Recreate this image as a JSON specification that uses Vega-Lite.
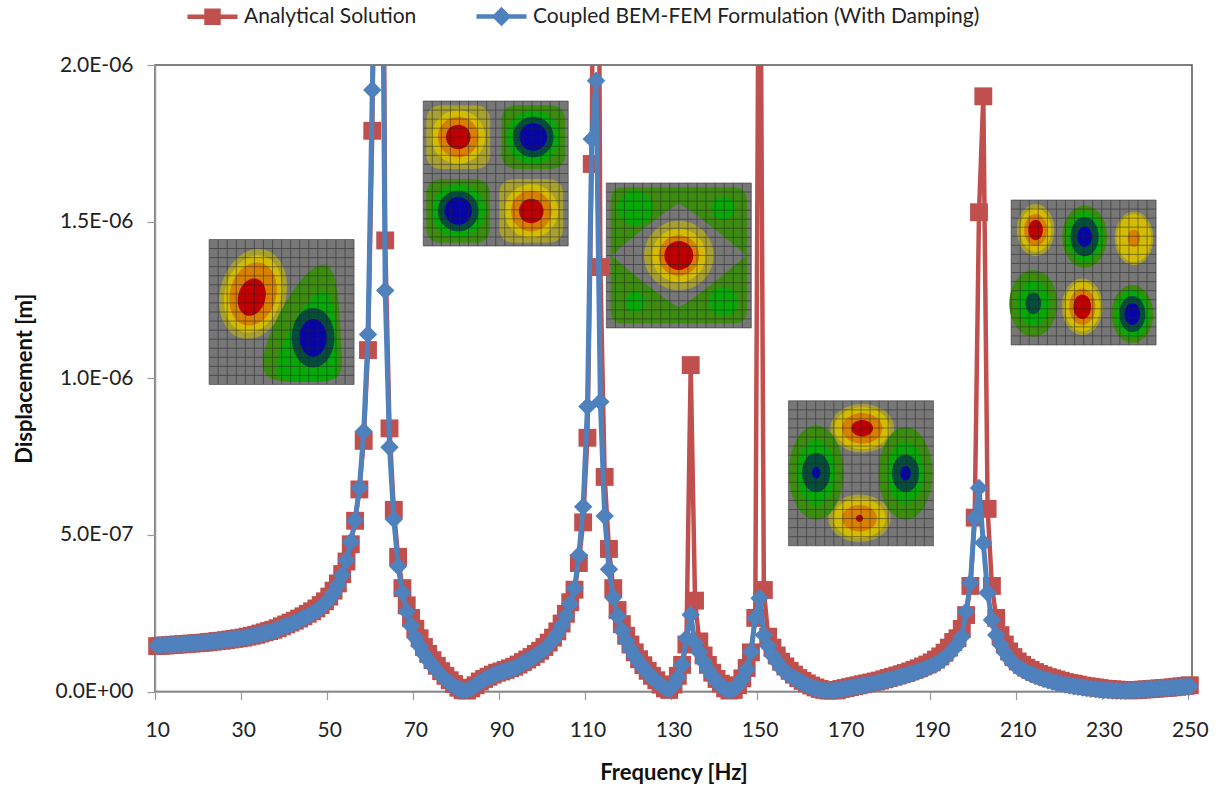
{"$schema":"https://vega.github.io/schema/vega-lite/v6.json","width":1037,"height":626.5,"autosize":{"type":"none"},"padding":{"left":155,"top":65,"right":26,"bottom":102.5},"background":"white","config":{"font":"Lato","view":{"stroke":"#555555","strokeWidth":1.5}},
"datasets":{
"analytical":[{"f":10,"v":1.45e-7},{"f":11,"v":1.46e-7},{"f":12,"v":1.47e-7},{"f":13,"v":1.48e-7},{"f":14,"v":1.49e-7},{"f":15,"v":1.5e-7},{"f":16,"v":1.51e-7},{"f":17,"v":1.52e-7},{"f":18,"v":1.53e-7},{"f":19,"v":1.54e-7},{"f":20,"v":1.55e-7},{"f":21,"v":1.56e-7},{"f":22,"v":1.58e-7},{"f":23,"v":1.59e-7},{"f":24,"v":1.61e-7},{"f":25,"v":1.62e-7},{"f":26,"v":1.64e-7},{"f":27,"v":1.66e-7},{"f":28,"v":1.68e-7},{"f":29,"v":1.7e-7},{"f":30,"v":1.72e-7},{"f":31,"v":1.75e-7},{"f":32,"v":1.78e-7},{"f":33,"v":1.81e-7},{"f":34,"v":1.85e-7},{"f":35,"v":1.89e-7},{"f":36,"v":1.93e-7},{"f":37,"v":1.97e-7},{"f":38,"v":2.02e-7},{"f":39,"v":2.08e-7},{"f":40,"v":2.14e-7},{"f":41,"v":2.2e-7},{"f":42,"v":2.26e-7},{"f":43,"v":2.33e-7},{"f":44,"v":2.4e-7},{"f":45,"v":2.48e-7},{"f":46,"v":2.56e-7},{"f":47,"v":2.65e-7},{"f":48,"v":2.76e-7},{"f":49,"v":2.88e-7},{"f":50,"v":3.03e-7},{"f":51,"v":3.22e-7},{"f":52,"v":3.45e-7},{"f":53,"v":3.75e-7},{"f":54,"v":4.15e-7},{"f":55,"v":4.7e-7},{"f":56,"v":5.45e-7},{"f":57,"v":6.45e-7},{"f":58,"v":8.0e-7},{"f":59,"v":1.09e-6},{"f":60,"v":1.79e-6},{"f":61,"v":3.0e-6},{"f":62,"v":4.0e-6},{"f":63,"v":1.44e-6},{"f":64,"v":8.4e-7},{"f":65,"v":5.8e-7},{"f":66,"v":4.3e-7},{"f":67,"v":3.3e-7},{"f":68,"v":2.75e-7},{"f":69,"v":2.35e-7},{"f":70,"v":2.0e-7},{"f":71,"v":1.7e-7},{"f":72,"v":1.42e-7},{"f":73,"v":1.2e-7},{"f":74,"v":1.0e-7},{"f":75,"v":8.2e-8},{"f":76,"v":6.5e-8},{"f":77,"v":5.0e-8},{"f":78,"v":3.6e-8},{"f":79,"v":2.4e-8},{"f":80,"v":1.2e-8},{"f":81,"v":4e-9},{"f":82,"v":3e-9},{"f":83,"v":1.0e-8},{"f":84,"v":2.0e-8},{"f":85,"v":3.2e-8},{"f":86,"v":4.0e-8},{"f":87,"v":4.7e-8},{"f":88,"v":5.4e-8},{"f":89,"v":6.0e-8},{"f":90,"v":6.4e-8},{"f":91,"v":6.9e-8},{"f":92,"v":7.4e-8},{"f":93,"v":7.9e-8},{"f":94,"v":8.6e-8},{"f":95,"v":9.4e-8},{"f":96,"v":1.02e-7},{"f":97,"v":1.1e-7},{"f":98,"v":1.2e-7},{"f":99,"v":1.3e-7},{"f":100,"v":1.42e-7},{"f":101,"v":1.56e-7},{"f":102,"v":1.72e-7},{"f":103,"v":1.92e-7},{"f":104,"v":2.17e-7},{"f":105,"v":2.48e-7},{"f":106,"v":2.85e-7},{"f":107,"v":3.25e-7},{"f":108,"v":4.1e-7},{"f":109,"v":5.4e-7},{"f":110,"v":8.1e-7},{"f":111,"v":1.684e-6},{"f":112,"v":4.4e-6},{"f":113,"v":1.355e-6},{"f":114,"v":6.85e-7},{"f":115,"v":4.55e-7},{"f":116,"v":3.3e-7},{"f":117,"v":2.6e-7},{"f":118,"v":2.15e-7},{"f":119,"v":1.78e-7},{"f":120,"v":1.5e-7},{"f":121,"v":1.25e-7},{"f":122,"v":1.03e-7},{"f":123,"v":8.4e-8},{"f":124,"v":6.6e-8},{"f":125,"v":5.0e-8},{"f":126,"v":3.6e-8},{"f":127,"v":2.2e-8},{"f":128,"v":1.0e-8},{"f":129,"v":5e-9},{"f":130,"v":2.2e-8},{"f":131,"v":5.0e-8},{"f":132,"v":8.5e-8},{"f":133,"v":1.5e-7},{"f":134,"v":1.042e-6},{"f":135,"v":2.9e-7},{"f":136,"v":1.6e-7},{"f":137,"v":1.15e-7},{"f":138,"v":8.5e-8},{"f":139,"v":6.0e-8},{"f":140,"v":4.0e-8},{"f":141,"v":2.5e-8},{"f":142,"v":1.0e-8},{"f":143,"v":3e-9},{"f":144,"v":5e-9},{"f":145,"v":2.0e-8},{"f":146,"v":4.2e-8},{"f":147,"v":7.5e-8},{"f":148,"v":1.25e-7},{"f":149,"v":2.35e-7},{"f":150,"v":3.0e-6},{"f":151,"v":3.24e-7},{"f":152,"v":1.75e-7},{"f":153,"v":1.4e-7},{"f":154,"v":1.15e-7},{"f":155,"v":9.5e-8},{"f":156,"v":8.0e-8},{"f":157,"v":6.6e-8},{"f":158,"v":5.4e-8},{"f":159,"v":4.3e-8},{"f":160,"v":3.4e-8},{"f":161,"v":2.6e-8},{"f":162,"v":1.9e-8},{"f":163,"v":1.3e-8},{"f":164,"v":8e-9},{"f":165,"v":5e-9},{"f":166,"v":3e-9},{"f":167,"v":3e-9},{"f":168,"v":5e-9},{"f":169,"v":8e-9},{"f":170,"v":1.1e-8},{"f":171,"v":1.4e-8},{"f":172,"v":1.7e-8},{"f":173,"v":2.0e-8},{"f":174,"v":2.3e-8},{"f":175,"v":2.6e-8},{"f":176,"v":2.9e-8},{"f":177,"v":3.2e-8},{"f":178,"v":3.5e-8},{"f":179,"v":3.9e-8},{"f":180,"v":4.3e-8},{"f":181,"v":4.7e-8},{"f":182,"v":5.1e-8},{"f":183,"v":5.5e-8},{"f":184,"v":5.9e-8},{"f":185,"v":6.4e-8},{"f":186,"v":6.9e-8},{"f":187,"v":7.4e-8},{"f":188,"v":8.0e-8},{"f":189,"v":8.6e-8},{"f":190,"v":9.3e-8},{"f":191,"v":1.02e-7},{"f":192,"v":1.12e-7},{"f":193,"v":1.24e-7},{"f":194,"v":1.4e-7},{"f":195,"v":1.58e-7},{"f":196,"v":1.7e-7},{"f":197,"v":2.0e-7},{"f":198,"v":2.44e-7},{"f":199,"v":3.37e-7},{"f":200,"v":5.55e-7},{"f":201,"v":1.53e-6},{"f":202,"v":1.9e-6},{"f":203,"v":5.83e-7},{"f":204,"v":3.37e-7},{"f":205,"v":2.35e-7},{"f":206,"v":1.8e-7},{"f":207,"v":1.5e-7},{"f":208,"v":1.28e-7},{"f":209,"v":1.1e-7},{"f":210,"v":9.6e-8},{"f":211,"v":8.5e-8},{"f":212,"v":7.6e-8},{"f":213,"v":6.9e-8},{"f":214,"v":6.2e-8},{"f":215,"v":5.6e-8},{"f":216,"v":5.1e-8},{"f":217,"v":4.6e-8},{"f":218,"v":4.2e-8},{"f":219,"v":3.8e-8},{"f":220,"v":3.4e-8},{"f":221,"v":3.0e-8},{"f":222,"v":2.7e-8},{"f":223,"v":2.5e-8},{"f":224,"v":2.2e-8},{"f":225,"v":1.9e-8},{"f":226,"v":1.7e-8},{"f":227,"v":1.5e-8},{"f":228,"v":1.3e-8},{"f":229,"v":1.1e-8},{"f":230,"v":9e-9},{"f":231,"v":8e-9},{"f":232,"v":7e-9},{"f":233,"v":6e-9},{"f":234,"v":5e-9},{"f":235,"v":5e-9},{"f":236,"v":4e-9},{"f":237,"v":4e-9},{"f":238,"v":5e-9},{"f":239,"v":6e-9},{"f":240,"v":7e-9},{"f":241,"v":8e-9},{"f":242,"v":9e-9},{"f":243,"v":1.0e-8},{"f":244,"v":1.1e-8},{"f":245,"v":1.2e-8},{"f":246,"v":1.35e-8},{"f":247,"v":1.5e-8},{"f":248,"v":1.65e-8},{"f":249,"v":1.8e-8},{"f":250,"v":2.0e-8}],
"coupled":[{"f":10,"v":1.47e-7},{"f":11,"v":1.48e-7},{"f":12,"v":1.49e-7},{"f":13,"v":1.5e-7},{"f":14,"v":1.5e-7},{"f":15,"v":1.51e-7},{"f":16,"v":1.52e-7},{"f":17,"v":1.53e-7},{"f":18,"v":1.54e-7},{"f":19,"v":1.55e-7},{"f":20,"v":1.56e-7},{"f":21,"v":1.57e-7},{"f":22,"v":1.59e-7},{"f":23,"v":1.6e-7},{"f":24,"v":1.62e-7},{"f":25,"v":1.63e-7},{"f":26,"v":1.65e-7},{"f":27,"v":1.66e-7},{"f":28,"v":1.68e-7},{"f":29,"v":1.7e-7},{"f":30,"v":1.72e-7},{"f":31,"v":1.74e-7},{"f":32,"v":1.77e-7},{"f":33,"v":1.8e-7},{"f":34,"v":1.83e-7},{"f":35,"v":1.87e-7},{"f":36,"v":1.9e-7},{"f":37,"v":1.94e-7},{"f":38,"v":1.99e-7},{"f":39,"v":2.05e-7},{"f":40,"v":2.1e-7},{"f":41,"v":2.15e-7},{"f":42,"v":2.21e-7},{"f":43,"v":2.27e-7},{"f":44,"v":2.34e-7},{"f":45,"v":2.41e-7},{"f":46,"v":2.49e-7},{"f":47,"v":2.58e-7},{"f":48,"v":2.68e-7},{"f":49,"v":2.8e-7},{"f":50,"v":2.95e-7},{"f":51,"v":3.15e-7},{"f":52,"v":3.4e-7},{"f":53,"v":3.72e-7},{"f":54,"v":4.2e-7},{"f":55,"v":4.78e-7},{"f":56,"v":5.47e-7},{"f":57,"v":6.5e-7},{"f":58,"v":8.3e-7},{"f":59,"v":1.14e-6},{"f":60,"v":1.92e-6},{"f":61,"v":2.6e-6},{"f":62,"v":3.1e-6},{"f":63,"v":1.28e-6},{"f":64,"v":7.8e-7},{"f":65,"v":5.5e-7},{"f":66,"v":4.0e-7},{"f":67,"v":3.15e-7},{"f":68,"v":2.55e-7},{"f":69,"v":2.1e-7},{"f":70,"v":1.72e-7},{"f":71,"v":1.45e-7},{"f":72,"v":1.2e-7},{"f":73,"v":1.0e-7},{"f":74,"v":8.2e-8},{"f":75,"v":6.7e-8},{"f":76,"v":5.2e-8},{"f":77,"v":3.8e-8},{"f":78,"v":2.7e-8},{"f":79,"v":1.7e-8},{"f":80,"v":8e-9},{"f":81,"v":3e-9},{"f":82,"v":5e-9},{"f":83,"v":1.0e-8},{"f":84,"v":2.0e-8},{"f":85,"v":3.0e-8},{"f":86,"v":3.8e-8},{"f":87,"v":4.5e-8},{"f":88,"v":5.2e-8},{"f":89,"v":5.8e-8},{"f":90,"v":6.2e-8},{"f":91,"v":6.6e-8},{"f":92,"v":7.0e-8},{"f":93,"v":7.5e-8},{"f":94,"v":8.2e-8},{"f":95,"v":9.0e-8},{"f":96,"v":9.8e-8},{"f":97,"v":1.06e-7},{"f":98,"v":1.15e-7},{"f":99,"v":1.25e-7},{"f":100,"v":1.35e-7},{"f":101,"v":1.5e-7},{"f":102,"v":1.65e-7},{"f":103,"v":1.85e-7},{"f":104,"v":2.1e-7},{"f":105,"v":2.4e-7},{"f":106,"v":2.8e-7},{"f":107,"v":3.3e-7},{"f":108,"v":4.35e-7},{"f":109,"v":5.9e-7},{"f":110,"v":9.1e-7},{"f":111,"v":1.764e-6},{"f":112,"v":1.95e-6},{"f":113,"v":9.25e-7},{"f":114,"v":5.6e-7},{"f":115,"v":3.9e-7},{"f":116,"v":3.0e-7},{"f":117,"v":2.4e-7},{"f":118,"v":1.95e-7},{"f":119,"v":1.62e-7},{"f":120,"v":1.35e-7},{"f":121,"v":1.13e-7},{"f":122,"v":9.3e-8},{"f":123,"v":7.5e-8},{"f":124,"v":6.0e-8},{"f":125,"v":4.5e-8},{"f":126,"v":3.3e-8},{"f":127,"v":2.2e-8},{"f":128,"v":1.2e-8},{"f":129,"v":6e-9},{"f":130,"v":2.0e-8},{"f":131,"v":4.5e-8},{"f":132,"v":8.5e-8},{"f":133,"v":1.7e-7},{"f":134,"v":2.45e-7},{"f":135,"v":1.55e-7},{"f":136,"v":1.25e-7},{"f":137,"v":9.5e-8},{"f":138,"v":7.0e-8},{"f":139,"v":5.0e-8},{"f":140,"v":3.2e-8},{"f":141,"v":1.8e-8},{"f":142,"v":8e-9},{"f":143,"v":4e-9},{"f":144,"v":8e-9},{"f":145,"v":2.0e-8},{"f":146,"v":4.0e-8},{"f":147,"v":7.0e-8},{"f":148,"v":1.27e-7},{"f":149,"v":2.35e-7},{"f":150,"v":2.98e-7},{"f":151,"v":1.8e-7},{"f":152,"v":1.45e-7},{"f":153,"v":1.15e-7},{"f":154,"v":9.5e-8},{"f":155,"v":7.5e-8},{"f":156,"v":6.2e-8},{"f":157,"v":5.2e-8},{"f":158,"v":4.4e-8},{"f":159,"v":3.5e-8},{"f":160,"v":2.7e-8},{"f":161,"v":2.0e-8},{"f":162,"v":1.4e-8},{"f":163,"v":1.0e-8},{"f":164,"v":6e-9},{"f":165,"v":4e-9},{"f":166,"v":3e-9},{"f":167,"v":3e-9},{"f":168,"v":5e-9},{"f":169,"v":7e-9},{"f":170,"v":1.0e-8},{"f":171,"v":1.2e-8},{"f":172,"v":1.5e-8},{"f":173,"v":1.7e-8},{"f":174,"v":2.0e-8},{"f":175,"v":2.2e-8},{"f":176,"v":2.5e-8},{"f":177,"v":2.7e-8},{"f":178,"v":3.0e-8},{"f":179,"v":3.4e-8},{"f":180,"v":3.8e-8},{"f":181,"v":4.1e-8},{"f":182,"v":4.5e-8},{"f":183,"v":4.8e-8},{"f":184,"v":5.2e-8},{"f":185,"v":5.6e-8},{"f":186,"v":6.0e-8},{"f":187,"v":6.5e-8},{"f":188,"v":7.0e-8},{"f":189,"v":7.6e-8},{"f":190,"v":8.2e-8},{"f":191,"v":8.8e-8},{"f":192,"v":9.7e-8},{"f":193,"v":1.07e-7},{"f":194,"v":1.2e-7},{"f":195,"v":1.35e-7},{"f":196,"v":1.5e-7},{"f":197,"v":1.75e-7},{"f":198,"v":2.55e-7},{"f":199,"v":3.46e-7},{"f":200,"v":5.55e-7},{"f":201,"v":6.5e-7},{"f":202,"v":4.75e-7},{"f":203,"v":3.15e-7},{"f":204,"v":2.28e-7},{"f":205,"v":1.8e-7},{"f":206,"v":1.5e-7},{"f":207,"v":1.25e-7},{"f":208,"v":1.05e-7},{"f":209,"v":9.0e-8},{"f":210,"v":7.8e-8},{"f":211,"v":7.0e-8},{"f":212,"v":6.2e-8},{"f":213,"v":5.6e-8},{"f":214,"v":5.0e-8},{"f":215,"v":4.5e-8},{"f":216,"v":4.0e-8},{"f":217,"v":3.6e-8},{"f":218,"v":3.2e-8},{"f":219,"v":2.8e-8},{"f":220,"v":2.5e-8},{"f":221,"v":2.2e-8},{"f":222,"v":1.9e-8},{"f":223,"v":1.7e-8},{"f":224,"v":1.5e-8},{"f":225,"v":1.3e-8},{"f":226,"v":1.1e-8},{"f":227,"v":9e-9},{"f":228,"v":8e-9},{"f":229,"v":6e-9},{"f":230,"v":5e-9},{"f":231,"v":4e-9},{"f":232,"v":3e-9},{"f":233,"v":2e-9},{"f":234,"v":2e-9},{"f":235,"v":2e-9},{"f":236,"v":3e-9},{"f":237,"v":4e-9},{"f":238,"v":5e-9},{"f":239,"v":6e-9},{"f":240,"v":7e-9},{"f":241,"v":8e-9},{"f":242,"v":9e-9},{"f":243,"v":1.0e-8},{"f":244,"v":1.1e-8},{"f":245,"v":1.2e-8},{"f":246,"v":1.3e-8},{"f":247,"v":1.4e-8},{"f":248,"v":1.5e-8},{"f":249,"v":1.6e-8},{"f":250,"v":1.7e-8}],
"insets":[{"f":38.92,"v":1.2115e-6},{"f":88.69,"v":1.6536e-6},{"f":131.24,"v":1.392e-6},{"f":173.57,"v":6.967e-7},{"f":225.31,"v":1.3376e-6}],
"contours":[
{"f":32.29,"v":1.269e-6,"level":"hot1","form":"tilt","extent":63},{"f":32.29,"v":1.269e-6,"level":"hot2","form":"tilt","extent":54},{"f":32.29,"v":1.269e-6,"level":"hot3","form":"tilt","extent":44},{"f":31.99,"v":1.259e-6,"level":"hot4","form":"tilt","extent":26},
{"f":43.92,"v":1.176e-6,"level":"cold1","form":"teardrop","extent":81},{"f":45.08,"v":1.132e-6,"level":"cold2","form":"teardrop","extent":62},{"f":46.24,"v":1.129e-6,"level":"cold3","form":"tall","extent":41},{"f":46.24,"v":1.129e-6,"level":"cold4","form":"tall","extent":26},
{"f":79.97,"v":1.77e-6,"level":"hot1","form":"squircle","extent":44},{"f":79.97,"v":1.77e-6,"level":"hot2","form":"round","extent":37},{"f":79.97,"v":1.77e-6,"level":"hot3","form":"round","extent":28},{"f":79.97,"v":1.77e-6,"level":"hot4","form":"round","extent":17},
{"f":97.41,"v":1.77e-6,"level":"cold1","form":"squircle","extent":44},{"f":97.41,"v":1.77e-6,"level":"cold2","form":"round","extent":37},{"f":97.41,"v":1.77e-6,"level":"cold3","form":"round","extent":28},{"f":97.41,"v":1.77e-6,"level":"cold4","form":"round","extent":19},
{"f":79.97,"v":1.534e-6,"level":"cold1","form":"squircle","extent":44},{"f":79.97,"v":1.534e-6,"level":"cold2","form":"round","extent":37},{"f":79.97,"v":1.534e-6,"level":"cold3","form":"round","extent":28},{"f":79.97,"v":1.534e-6,"level":"cold4","form":"round","extent":19},
{"f":96.94,"v":1.534e-6,"level":"hot1","form":"squircle","extent":44},{"f":96.94,"v":1.534e-6,"level":"hot2","form":"round","extent":37},{"f":96.94,"v":1.534e-6,"level":"hot3","form":"round","extent":28},{"f":96.94,"v":1.534e-6,"level":"hot4","form":"round","extent":17},
{"f":131.24,"v":1.392e-6,"level":"cold1","form":"block","extent":94},{"f":131.24,"v":1.392e-6,"level":"zero","form":"diamond","extent":93},
{"f":121.13,"v":1.5435e-6,"level":"cold2","form":"round","extent":24},{"f":141.59,"v":1.5435e-6,"level":"cold2","form":"round","extent":16},{"f":121.13,"v":1.2434e-6,"level":"cold2","form":"round","extent":14},{"f":141.59,"v":1.2434e-6,"level":"cold2","form":"round","extent":20},
{"f":131.24,"v":1.392e-6,"level":"hot1","form":"round","extent":48},{"f":131.24,"v":1.392e-6,"level":"hot2","form":"round","extent":37},{"f":131.24,"v":1.392e-6,"level":"hot3","form":"round","extent":28},{"f":131.24,"v":1.392e-6,"level":"hot4","form":"round","extent":20},
{"f":173.85,"v":8.402e-7,"level":"hot1","form":"wide","extent":44},{"f":173.85,"v":8.402e-7,"level":"hot2","form":"wide","extent":38},{"f":173.85,"v":8.402e-7,"level":"hot3","form":"wide","extent":28},{"f":173.85,"v":8.402e-7,"level":"hot4","form":"wide","extent":15},
{"f":173.22,"v":5.529e-7,"level":"hot1","form":"wide","extent":43},{"f":173.22,"v":5.529e-7,"level":"hot2","form":"wide","extent":36},{"f":173.22,"v":5.529e-7,"level":"hot3","form":"wide","extent":24},{"f":173.22,"v":5.529e-7,"level":"hot4","form":"round","extent":5},
{"f":163.15,"v":6.985e-7,"level":"cold1","form":"slim","extent":65},{"f":163.15,"v":6.985e-7,"level":"cold2","form":"slim","extent":45},{"f":163.15,"v":6.985e-7,"level":"cold3","form":"tall","extent":27},{"f":163.15,"v":6.985e-7,"level":"cold4","form":"tall","extent":8},
{"f":183.92,"v":6.966e-7,"level":"cold1","form":"slim","extent":64},{"f":183.92,"v":6.966e-7,"level":"cold2","form":"slim","extent":43},{"f":183.92,"v":6.966e-7,"level":"cold3","form":"tall","extent":26},{"f":183.92,"v":6.966e-7,"level":"cold4","form":"tall","extent":10},
{"f":214.15,"v":1.4733e-6,"level":"hot1","form":"tall","extent":36},{"f":214.15,"v":1.4733e-6,"level":"hot2","form":"tall","extent":30},{"f":214.15,"v":1.4733e-6,"level":"hot3","form":"tall","extent":22},{"f":214.15,"v":1.4733e-6,"level":"hot4","form":"tall","extent":14},
{"f":225.55,"v":1.4519e-6,"level":"cold1","form":"tall","extent":43},{"f":225.55,"v":1.4519e-6,"level":"cold2","form":"tall","extent":35},{"f":225.55,"v":1.4519e-6,"level":"cold3","form":"tall","extent":27},{"f":225.55,"v":1.4519e-6,"level":"cold4","form":"tall","extent":14},
{"f":237.01,"v":1.4468e-6,"level":"hot1","form":"tall","extent":37},{"f":237.01,"v":1.4468e-6,"level":"hot2","form":"tall","extent":33},{"f":237.01,"v":1.4468e-6,"level":"hot3","form":"tall","extent":12},
{"f":213.62,"v":1.2393e-6,"level":"cold1","form":"tall","extent":46},{"f":213.62,"v":1.2393e-6,"level":"cold2","form":"tall","extent":31},{"f":213.62,"v":1.2393e-6,"level":"cold3","form":"tall","extent":15},
{"f":225.01,"v":1.2284e-6,"level":"hot1","form":"tall","extent":39},{"f":225.01,"v":1.2284e-6,"level":"hot2","form":"tall","extent":34},{"f":225.01,"v":1.2284e-6,"level":"hot3","form":"tall","extent":25},{"f":225.01,"v":1.2284e-6,"level":"hot4","form":"tall","extent":17},
{"f":236.64,"v":1.2051e-6,"level":"cold1","form":"tall","extent":40},{"f":236.64,"v":1.2051e-6,"level":"cold2","form":"tall","extent":33},{"f":236.64,"v":1.2051e-6,"level":"cold3","form":"tall","extent":25},{"f":236.64,"v":1.2051e-6,"level":"cold4","form":"tall","extent":15}
]},
"encoding":{
"x":{"field":"f","type":"quantitative","scale":{"domain":[9.5,250.5],"nice":false,"zero":false},"axis":{"title":"Frequency [Hz]","values":[10,30,50,70,90,110,130,150,170,190,210,230,250],"format":"d","grid":false,"tickOffset":-2.15,"labelOffset":2.15,"tickSize":8,"tickColor":"#999999","domainColor":"#999999","domainWidth":1.5,"tickWidth":1.2,"labelFontSize":21,"labelColor":"#222222","labelPadding":20,"titleFontSize":22,"titleFontWeight":"bold","titleColor":"#111111","titlePadding":22,"labelFlush":false,"labelOverlap":false}},
"y":{"field":"v","type":"quantitative","scale":{"domain":[0,2e-6],"nice":false},"axis":{"title":"Displacement [m]","values":[0,5e-7,1e-6,1.5e-6,2e-6],"labelExpr":"replace(replace(upper(format(datum.value,'.1e')),'-','-0'),'+','+0')","grid":false,"tickSize":8,"tickColor":"#999999","domainColor":"#999999","domainWidth":1.5,"tickWidth":1.2,"labelFontSize":21,"labelColor":"#222222","labelPadding":14,"titleFontSize":22,"titleFontWeight":"bold","titleColor":"#111111","titlePadding":19}}
},
"layer":[
{"data":{"name":"insets"},"mark":{"type":"point","shape":"square","filled":true,"fill":"#777777","stroke":null,"opacity":1,"size":21025,"clip":false}},
{"data":{"name":"contours"},"mark":{"type":"point","filled":true,"opacity":1,"strokeWidth":0},"encoding":{
"fill":{"field":"level","type":"nominal","legend":null,"scale":{"domain":["zero","hot1","hot2","hot3","hot4","cold1","cold2","cold3","cold4"],"range":["#777777","#a8a030","#d4bc00","#d88000","#c00000","#3c8c10","#08a808","#064e3c","#0606a8"]}},
"shape":{"field":"form","type":"nominal","legend":null,"scale":{"domain":["round","tall","wide","slim","tilt","teardrop","squircle","block","diamond"],"range":["M-1,0A1,1 0 1,1 1,0A1,1 0 1,1 -1,0Z","M-.72,0A.72,1 0 1,1 .72,0A.72,1 0 1,1 -.72,0Z","M-1,0A1,.76 0 1,1 1,0A1,.76 0 1,1 -1,0Z","M-.58,0A.58,1 0 1,1 .58,0A.58,1 0 1,1 -.58,0Z","M.26,-.97A.72,1 15 1,1 -.26,.97A.72,1 15 1,1 .26,-.97Z","M.35,-1C.6,-1 .62,-.3 .66,.6C.7,1 .47,1 0,1C-.47,1 -.78,1 -.66,.5C-.55,0 0,-1 .35,-1Z","M-.5,-1H.5Q1,-1 1,-.5V.5Q1,1 .5,1H-.5Q-1,1 -1,.5V-.5Q-1,-1 -.5,-1Z","M-.8,-1H.8Q1,-1 1,-.8V.8Q1,1 .8,1H-.8Q-1,1 -1,.8V-.8Q-1,-1 -.8,-1Z","M0,-.77Q.3,-.6 1,0Q.3,.6 0,.77Q-.3,.6 -1,0Q-.3,-.6 0,-.77Z"]}},
"size":{"field":"extent","type":"quantitative","legend":null,"scale":{"type":"pow","exponent":2,"domain":[0,100],"range":[0,21025]}}
}},
{"data":{"name":"insets"},"mark":{"type":"point","filled":false,"stroke":"#222222","strokeWidth":0.7,"opacity":0.7,"size":21025,"shape":"M-1,-1H1V1H-1ZM-.875,-1V1M-.75,-1V1M-.625,-1V1M-.5,-1V1M-.375,-1V1M-.25,-1V1M-.125,-1V1M0,-1V1M.125,-1V1M.25,-1V1M.375,-1V1M.5,-1V1M.625,-1V1M.75,-1V1M.875,-1V1M-1,-.875H1M-1,-.75H1M-1,-.625H1M-1,-.5H1M-1,-.375H1M-1,-.25H1M-1,-.125H1M-1,0H1M-1,.125H1M-1,.25H1M-1,.375H1M-1,.5H1M-1,.625H1M-1,.75H1M-1,.875H1"}},
{"data":{"name":"analytical"},"mark":{"type":"line","clip":true,"strokeWidth":4.5},"encoding":{"color":{"datum":"Analytical Solution","type":"nominal","scale":{"domain":["Analytical Solution","Coupled BEM-FEM Formulation (With Damping)"],"range":["#C0504D","#4F81BD"]},"legend":{"title":null,"orient":"none","legendX":30,"legendY":-76,"direction":"horizontal","columns":2,"columnPadding":50,"symbolSize":2500,"labelFontSize":21,"labelColor":"#222222","labelOffset":4,"labelLimit":600,"padding":0,"encode":{"symbols":{"update":{"shape":{"signal":"datum.value=='Analytical Solution'?'M-1,0H1M-.24,-.24H.24V.24H-.24Z':'M-1,0H1M0,-.26L.26,0L0,.26L-.26,0Z'"},"fill":{"signal":"datum.value=='Analytical Solution'?'#C0504D':'#4F81BD'"},"stroke":{"signal":"datum.value=='Analytical Solution'?'#C0504D':'#4F81BD'"},"strokeWidth":{"value":4.5},"opacity":{"value":1}}}}}}}},
{"data":{"name":"analytical"},"transform":[{"filter":"datum.v<=2e-6"}],"mark":{"type":"point","shape":"square","filled":true,"size":320,"opacity":1,"clip":false},"encoding":{"color":{"datum":"Analytical Solution","type":"nominal","legend":null}}},
{"data":{"name":"coupled"},"mark":{"type":"line","clip":true,"strokeWidth":5},"encoding":{"color":{"datum":"Coupled BEM-FEM Formulation (With Damping)","type":"nominal","legend":null}}},
{"data":{"name":"coupled"},"transform":[{"filter":"datum.v<=2e-6"}],"mark":{"type":"point","shape":"diamond","filled":true,"size":340,"opacity":1,"clip":false},"encoding":{"color":{"datum":"Coupled BEM-FEM Formulation (With Damping)","type":"nominal","legend":null}}}
]}
